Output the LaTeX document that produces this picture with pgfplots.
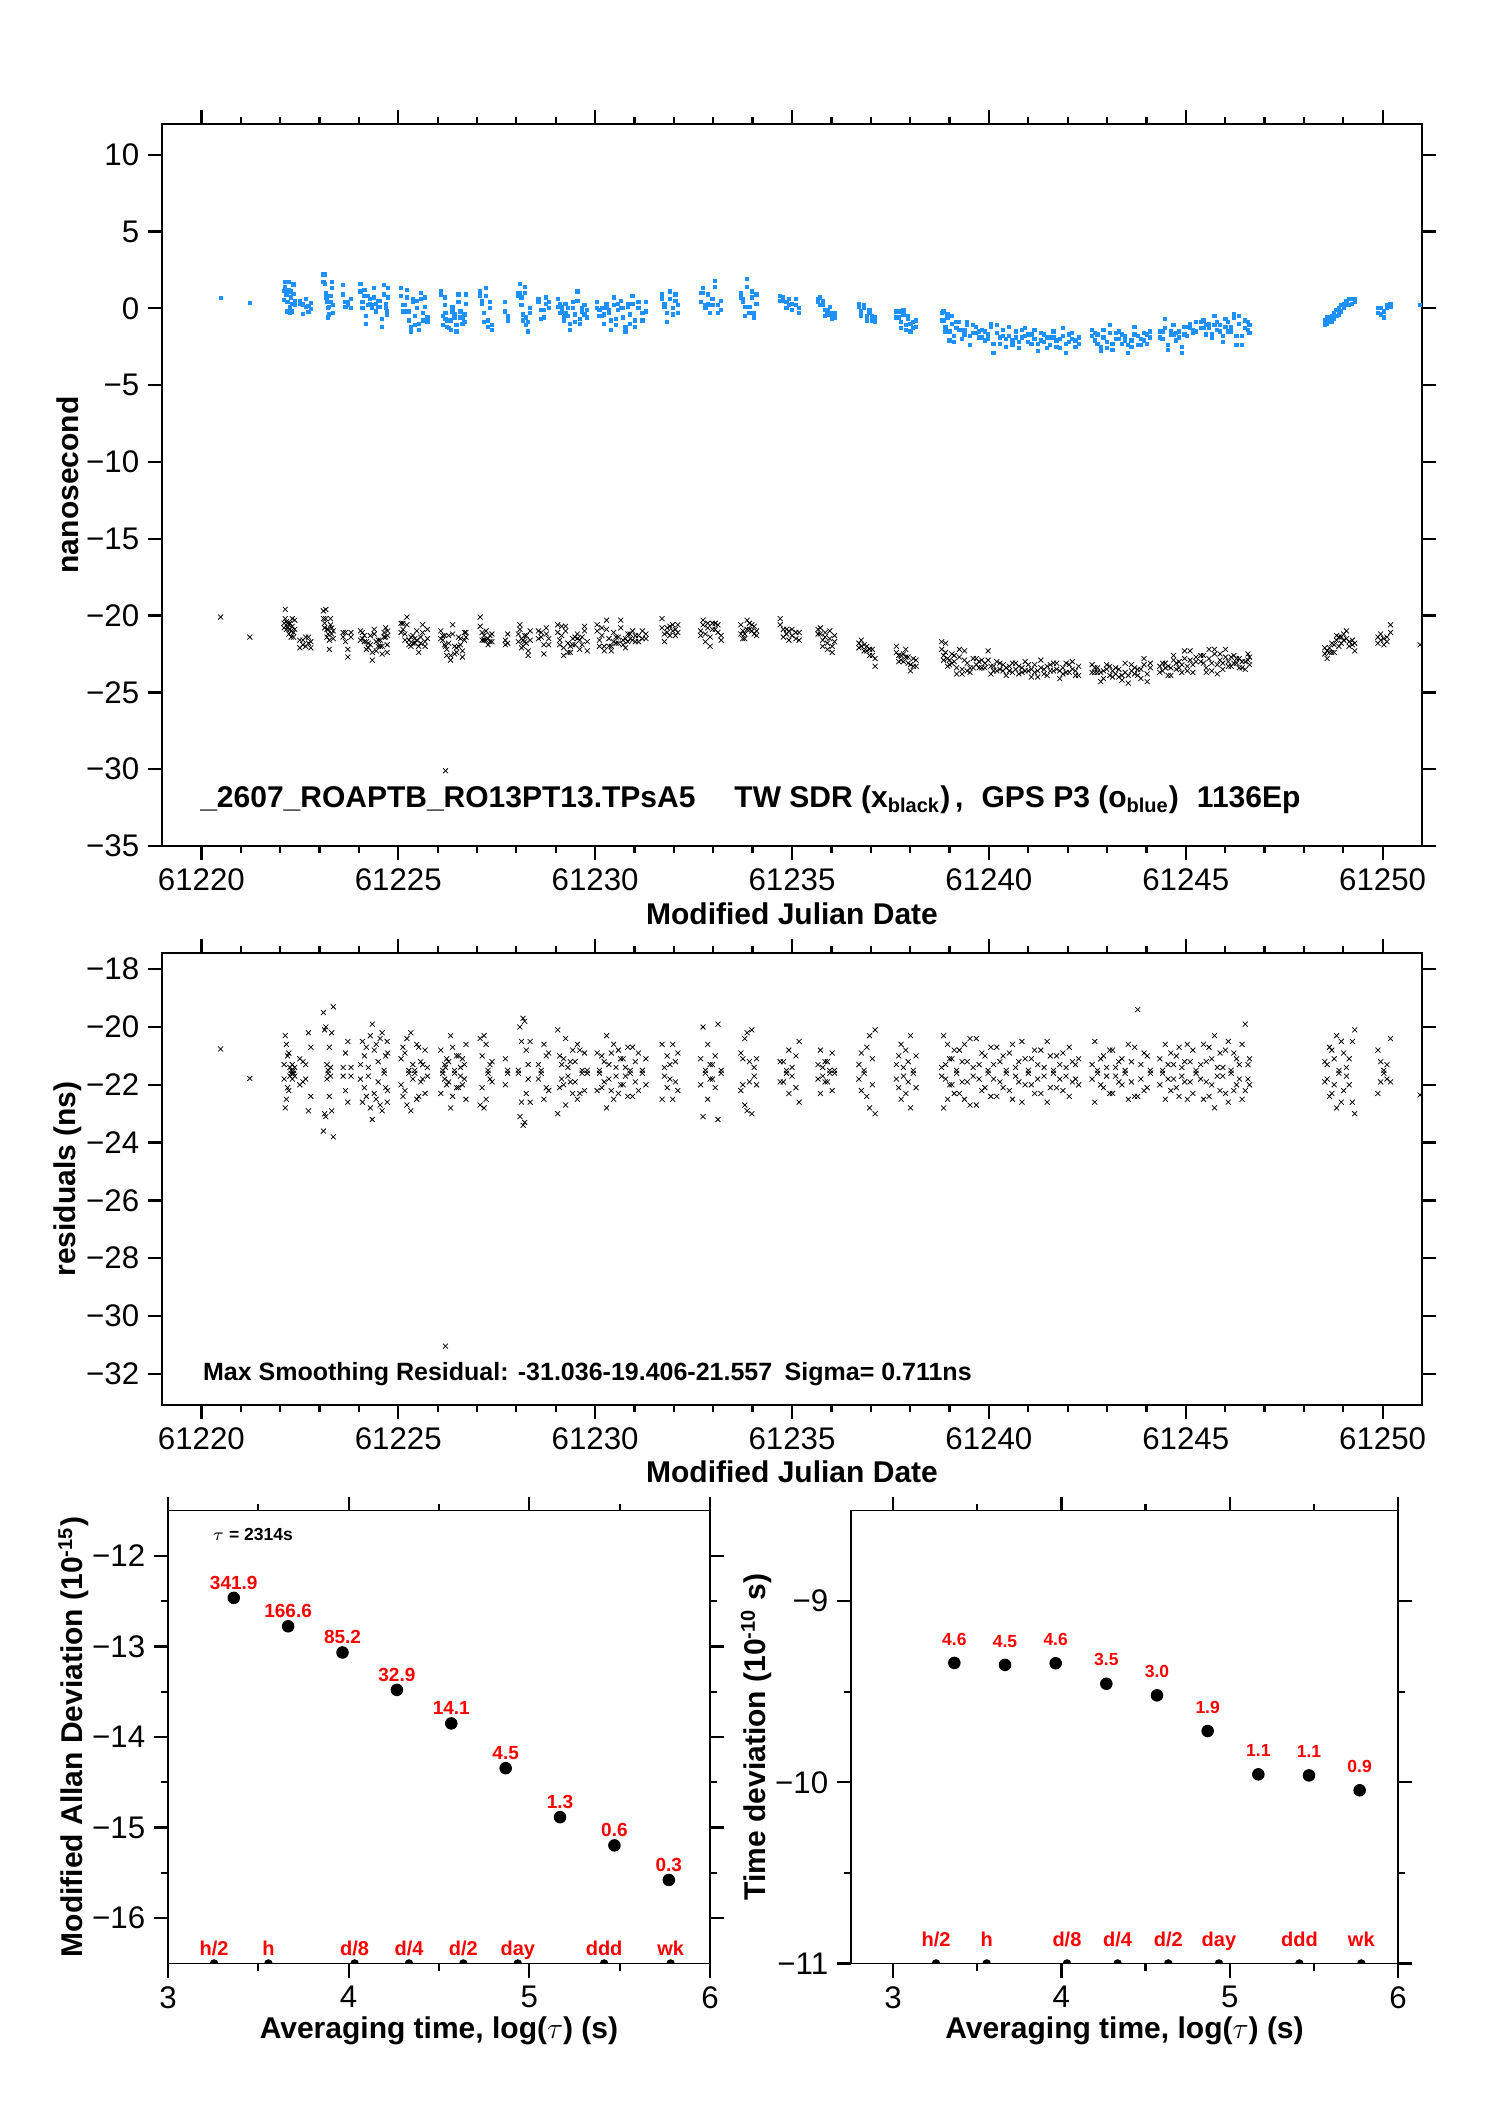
\documentclass[border=0pt]{standalone}
\usepackage{fontspec}
\setmainfont{Liberation Sans}
\usepackage{pgfplots}
\pgfplotsset{compat=1.18}
\usepackage{pgfplotstable}
\definecolor{gpsblue}{RGB}{30,144,255}

\pgfplotstableread{
x blue black res b2 k2 r2
61220.49 0.69 -20.1 -20.76 nan nan nan
61221.23 0.37 -21.4 -21.78 nan nan nan
61222.10 0.55 -20.5 -21.3 1.15 -20.8 -21.8
61222.13 1.70 -20.2 -20.3 1.40 -19.6 -22.8
61222.16 0.90 -20.4 -20.6 1.10 -20.9 -22.5
61222.19 0.40 -20.8 -21.0 -0.20 -20.5 -22.1
61222.22 1.20 -20.6 -20.9 1.70 -21.2 -22.2
61222.25 0.10 -20.9 -21.7 -0.30 -20.5 -21.4
61222.28 0.70 -21.0 -21.5 1.10 -21.4 -21.6
61222.31 0.30 -20.7 -21.8 -0.20 -20.2 -21.3
61222.34 0.95 -21.1 -21.6 1.55 -21.4 -21.5
61222.37 0.50 -20.9 -21.7 0.20 -20.3 -21.4
61222.50 0.30 -21.6 -22.0 0.50 -22.1 -21.1
61222.58 0.25 -21.9 -21.9 -0.35 -21.6 -21.2
61222.65 0.10 -21.4 -21.8 0.60 -22.0 -21.3
61222.72 0.15 -21.8 -22.9 -0.25 -21.4 -20.2
61222.78 -0.05 -21.7 -22.4 0.35 -22.1 -20.7
61223.10 2.20 -19.7 -19.5 1.70 -20.2 -23.6
61223.13 1.60 -20.5 -20.1 2.20 -20.8 -23.0
61223.16 1.00 -20.2 -20.0 0.70 -19.6 -23.1
61223.19 0.40 -20.9 -21.3 0.60 -21.4 -21.8
61223.22 0.00 -21.2 -21.5 -0.60 -20.9 -21.6
61223.25 -0.40 -21.6 -22.4 0.10 -22.2 -20.7
61223.28 0.80 -20.6 -21.7 0.40 -20.2 -21.4
61223.31 1.30 -20.8 -22.9 1.70 -21.2 -20.2
61223.35 0.20 -21.5 -23.8 -0.30 -21.0 -19.3
61223.60 0.90 -21.1 -21.4 1.50 -21.4 -21.7
61223.66 0.40 -21.7 -22.2 0.10 -21.1 -20.9
61223.72 0.20 -22.2 -22.6 0.40 -22.7 -20.5
61223.80 0.60 -21.4 -21.7 0.00 -21.1 -21.4
61224.04 1.10 -21.0 -21.3 1.60 -21.6 -21.8
61224.09 0.40 -21.5 -22.6 0.00 -21.1 -20.5
61224.14 0.80 -21.3 -21.0 1.20 -21.7 -22.1
61224.19 -0.50 -22.2 -22.4 -1.00 -21.7 -20.7
61224.24 0.20 -21.8 -21.7 0.80 -22.1 -21.4
61224.29 0.60 -21.9 -22.8 0.30 -21.3 -20.3
61224.34 0.00 -22.4 -23.2 0.20 -22.9 -19.9
61224.39 1.30 -21.2 -20.8 0.70 -20.9 -22.3
61224.44 -0.20 -21.7 -22.5 0.30 -22.3 -20.6
61224.49 0.50 -22.0 -21.9 0.10 -21.6 -21.2
61224.54 0.10 -21.6 -22.7 0.50 -22.0 -20.4
61224.59 -0.70 -22.5 -22.9 -1.20 -22.0 -20.2
61224.64 0.90 -21.1 -21.5 1.50 -21.4 -21.6
61224.68 0.30 -21.4 -22.1 0.00 -20.8 -21.0
61224.72 -0.40 -21.9 -22.6 -0.20 -22.4 -20.5
61224.73 1.30 -21.3 -20.9 0.70 -21.0 -22.2
61225.07 0.80 -20.5 -21.1 1.30 -21.1 -22.0
61225.12 0.20 -20.9 -22.4 -0.20 -20.5 -20.7
61225.17 -0.20 -21.2 -20.9 0.20 -21.6 -22.2
61225.22 1.20 -20.6 -20.4 0.70 -20.1 -22.7
61225.27 -0.80 -21.6 -21.5 -0.20 -21.9 -21.6
61225.32 -1.20 -22.0 -20.2 -1.50 -21.4 -22.9
61225.37 0.40 -21.3 -21.3 0.60 -21.8 -21.8
61225.42 -0.50 -21.8 -21.6 -1.10 -21.5 -21.5
61225.47 0.00 -21.0 -20.6 0.50 -21.6 -22.5
61225.52 -1.00 -22.4 -22.4 -1.40 -22.0 -20.7
61225.57 0.60 -21.4 -21.2 1.00 -21.8 -21.9
61225.62 -0.30 -21.1 -21.8 -0.80 -20.6 -21.3
61225.68 0.10 -21.7 -20.8 0.70 -22.0 -22.3
61225.74 -0.60 -21.5 -21.4 -0.90 -20.9 -21.7
61226.08 0.90 -21.0 -20.8 1.10 -21.5 -22.3
61226.13 -0.50 -21.6 -21.6 -1.10 -21.3 -21.5
61226.18 0.20 -21.3 -21.3 0.70 -21.9 -21.8
61226.20 -0.30 -30.1 -31.04 -0.70 -22.0 -21.4
61226.23 -1.20 -22.2 -22.0 -0.80 -22.6 -21.1
61226.28 -0.80 -21.8 -21.9 -1.30 -21.3 -21.2
61226.33 -1.40 -22.6 -22.8 -0.80 -22.9 -20.3
61226.38 0.10 -21.2 -20.7 -0.20 -20.6 -22.4
61226.43 -0.60 -22.0 -21.5 -0.40 -22.5 -21.6
61226.48 -1.10 -22.4 -22.1 -1.50 -22.1 -21.0
61226.53 0.40 -21.4 -21.0 0.90 -22.0 -22.1
61226.58 -0.20 -21.9 -21.7 -0.60 -21.5 -21.4
61226.63 -1.00 -22.3 -22.0 -0.60 -22.7 -21.1
61226.68 -0.40 -21.6 -21.3 -0.90 -21.1 -21.8
61226.72 0.30 -21.1 -20.6 0.90 -21.4 -22.5
61227.08 1.10 -20.7 -20.4 0.80 -20.1 -22.7
61227.13 0.30 -21.1 -21.0 0.50 -21.6 -22.1
61227.18 -0.30 -21.6 -22.8 -0.90 -21.3 -20.3
61227.23 0.80 -21.0 -20.6 1.30 -21.6 -22.5
61227.28 -0.80 -21.9 -21.5 -1.20 -21.5 -21.6
61227.33 0.00 -21.3 -21.8 0.40 -21.7 -21.3
61227.38 -1.40 -21.7 -21.2 -1.10 -21.2 -21.9
61227.72 -0.20 -21.6 -21.1 0.40 -21.9 -22.0
61227.78 -0.50 -21.8 -21.5 -0.80 -21.2 -21.6
61228.05 0.80 -21.2 -21.6 1.00 -21.7 -21.5
61228.09 1.60 -20.9 -20.0 1.00 -20.6 -23.1
61228.13 0.20 -21.5 -22.6 0.70 -22.1 -20.5
61228.17 -0.40 -22.0 -23.4 -0.80 -21.6 -19.7
61228.21 1.00 -21.3 -19.8 1.40 -21.7 -23.3
61228.25 -0.60 -21.8 -22.3 -1.10 -21.3 -20.8
61228.30 -1.50 -22.3 -21.3 -0.90 -22.6 -21.8
61228.35 0.00 -21.6 -20.5 -0.30 -21.0 -22.6
61228.56 0.40 -21.0 -21.3 0.60 -21.5 -21.8
61228.63 -0.10 -21.4 -21.6 -0.70 -21.1 -21.5
61228.70 -0.60 -21.9 -22.5 -0.10 -22.5 -20.6
61228.76 0.70 -21.2 -21.0 0.30 -20.8 -22.1
61228.82 0.00 -21.5 -22.2 0.40 -21.9 -20.9
61229.05 0.60 -21.1 -20.1 0.10 -20.6 -23.0
61229.10 -0.30 -21.6 -21.0 0.30 -21.9 -22.1
61229.15 0.10 -21.3 -21.8 -0.20 -20.7 -21.3
61229.20 -0.80 -22.1 -22.0 -0.60 -22.6 -21.1
61229.25 0.30 -21.0 -20.4 -0.30 -20.7 -22.7
61229.31 -0.50 -21.8 -21.4 0.00 -22.4 -21.7
61229.37 -1.00 -22.4 -21.9 -1.40 -22.0 -21.2
61229.43 0.00 -21.5 -20.8 0.40 -21.9 -22.3
61229.49 -0.40 -21.9 -21.2 -0.90 -21.4 -21.9
61229.55 0.50 -21.2 -20.6 1.10 -21.5 -22.5
61229.61 -0.70 -22.2 -22.3 -1.00 -21.6 -20.8
61229.67 -0.20 -21.4 -21.6 0.00 -21.9 -21.5
61229.73 0.20 -21.0 -20.9 -0.40 -20.7 -22.2
61229.80 -0.60 -21.7 -21.5 -0.10 -22.3 -21.6
61230.05 0.40 -21.0 -20.9 0.00 -20.6 -22.2
61230.11 -0.50 -21.6 -21.5 -0.10 -22.0 -21.6
61230.17 0.00 -21.3 -21.0 -0.50 -20.8 -22.1
61230.23 -1.00 -22.0 -21.9 -0.40 -22.3 -21.2
61230.29 0.30 -20.9 -20.3 0.00 -20.3 -22.8
61230.35 -0.30 -21.5 -21.3 -0.10 -22.0 -21.8
61230.41 -1.40 -22.3 -22.2 -0.80 -22.0 -20.9
61230.47 0.20 -21.1 -20.6 0.70 -21.7 -22.5
61230.53 -0.70 -21.8 -21.7 -1.10 -21.4 -21.4
61230.59 -0.10 -21.4 -20.8 0.30 -21.8 -22.3
61230.65 0.50 -20.8 -21.1 0.00 -20.3 -22.0
61230.71 -0.60 -21.6 -22.0 0.00 -21.9 -21.1
61230.77 -1.20 -22.1 -21.4 -1.50 -21.5 -21.7
61230.83 0.10 -21.2 -20.7 0.30 -21.7 -22.4
61230.89 -0.40 -21.5 -21.6 -1.00 -21.2 -21.5
61230.95 0.30 -21.0 -22.4 0.80 -21.6 -20.7
61231.02 -0.80 -21.7 -21.2 -1.20 -21.3 -21.9
61231.10 0.00 -21.3 -20.9 0.40 -21.7 -22.2
61231.20 -0.30 -21.5 -21.5 -0.80 -21.0 -21.6
61231.29 -0.20 -21.2 -21.1 0.40 -21.5 -22.0
61231.70 0.90 -20.8 -20.6 0.60 -20.2 -22.5
61231.76 0.10 -21.2 -21.4 0.30 -21.7 -21.7
61231.83 -0.30 -21.1 -22.1 -0.90 -20.8 -21.0
61231.90 0.60 -20.7 -21.8 1.10 -21.3 -21.3
61231.97 0.00 -21.0 -22.5 -0.40 -20.6 -20.6
61232.04 0.50 -20.9 -21.2 0.90 -21.3 -21.9
61232.10 0.20 -21.1 -20.9 -0.30 -20.6 -22.2
61232.68 0.40 -21.0 -21.1 1.00 -21.3 -22.0
61232.74 1.30 -20.3 -20.0 1.00 -20.6 -23.1
61232.80 0.00 -21.2 -21.6 0.20 -21.7 -21.5
61232.86 0.90 -20.8 -22.5 0.30 -20.5 -20.6
61232.92 -0.30 -21.4 -21.8 0.20 -22.0 -21.3
61232.98 0.60 -20.9 -21.3 0.20 -20.5 -21.8
61233.05 1.80 -20.5 -21.0 1.40 -20.9 -22.1
61233.12 0.20 -21.1 -23.2 -0.30 -20.6 -19.9
61233.20 -0.10 -21.3 -21.5 0.50 -21.6 -21.6
61233.70 1.00 -21.2 -20.9 0.70 -20.6 -22.2
61233.75 0.40 -21.0 -22.0 0.60 -21.5 -21.1
61233.80 -0.50 -21.5 -22.7 0.10 -21.2 -20.4
61233.86 1.90 -20.3 -20.2 1.40 -20.9 -22.9
61233.92 0.10 -20.9 -21.2 -0.30 -20.5 -21.9
61233.98 0.70 -20.6 -23.0 1.10 -21.0 -20.1
61234.04 -0.30 -21.2 -21.4 -0.60 -20.7 -21.7
61234.10 0.30 -21.0 -21.1 0.90 -21.3 -22.0
61234.70 0.80 -20.6 -21.2 0.50 -20.2 -21.9
61234.78 0.50 -20.9 -21.9 0.70 -21.4 -21.2
61234.86 0.00 -21.2 -21.5 0.40 -20.9 -21.6
61234.92 0.60 -21.0 -20.8 0.20 -21.6 -22.3
61235.00 0.30 -21.3 -21.4 -0.10 -20.9 -21.7
61235.10 0.20 -21.1 -22.1 0.60 -21.5 -21.0
61235.18 0.00 -21.6 -22.6 -0.30 -21.1 -20.5
61235.66 0.40 -20.9 -21.3 0.60 -21.2 -21.8
61235.72 0.70 -21.2 -20.8 0.20 -20.8 -22.3
61235.78 0.20 -21.6 -21.7 0.50 -22.0 -21.4
61235.84 -0.10 -21.4 -21.2 -0.50 -21.1 -21.9
61235.90 -0.40 -21.8 -21.9 -0.10 -22.2 -21.2
61235.96 0.10 -21.5 -21.5 -0.30 -21.0 -21.6
61236.02 -0.70 -22.0 -22.2 -0.40 -22.4 -20.9
61236.08 -0.30 -21.7 -21.6 -0.60 -21.3 -21.5
61236.70 0.10 -21.8 -21.8 0.30 -22.1 -21.3
61236.76 -0.20 -22.0 -22.2 -0.50 -21.6 -20.9
61236.83 0.20 -21.9 -21.6 0.00 -22.3 -21.5
61236.90 -0.50 -22.3 -22.4 -0.80 -22.0 -20.7
61236.97 -0.30 -22.2 -22.8 -0.10 -22.6 -20.3
61237.04 -0.80 -22.6 -22.0 -0.50 -22.2 -21.1
61237.11 -0.60 -22.8 -23.0 -0.90 -23.3 -20.1
61237.65 -0.20 -22.4 -21.3 -0.60 -22.0 -21.8
61237.71 -0.60 -22.6 -22.1 -0.20 -23.0 -21.0
61237.77 -0.90 -22.9 -22.5 -1.30 -22.6 -20.6
61237.83 -0.40 -22.5 -21.7 -0.10 -23.0 -21.4
61237.89 -1.10 -22.7 -22.3 -1.40 -22.2 -20.8
61237.95 -0.70 -23.1 -21.9 -0.50 -22.7 -21.2
61238.01 -1.50 -23.6 -22.8 -1.00 -23.2 -20.3
61238.08 -0.90 -22.8 -21.5 -1.30 -23.3 -21.6
61238.15 -1.20 -23.3 -22.1 -0.80 -22.9 -21.0
61238.80 -0.30 -22.2 -21.4 -0.80 -21.7 -21.7
61238.85 -0.80 -22.6 -20.3 -0.20 -22.9 -22.8
61238.90 -1.20 -22.4 -21.8 -1.50 -21.8 -21.3
61238.95 -0.60 -22.8 -22.5 -0.40 -23.3 -20.6
61239.00 -1.50 -23.2 -21.1 -2.10 -22.9 -22.0
61239.06 -1.00 -22.5 -22.0 -0.50 -23.1 -21.1
61239.12 -1.80 -23.0 -20.8 -2.20 -22.6 -22.3
61239.18 -1.30 -23.4 -21.6 -0.90 -23.8 -21.5
61239.25 -0.90 -22.7 -22.3 -1.40 -22.2 -20.8
61239.32 -2.00 -23.5 -21.2 -1.40 -23.8 -21.9
61239.38 -1.40 -22.9 -20.6 -1.70 -22.3 -22.5
61239.45 -1.10 -23.1 -21.9 -0.90 -23.6 -21.2
61239.52 -2.40 -23.7 -22.7 -1.80 -23.4 -20.4
61239.60 -1.60 -22.8 -21.4 -1.10 -23.4 -21.7
61239.68 -1.20 -23.2 -20.4 -1.60 -22.8 -22.7
61239.75 -1.90 -23.0 -21.8 -1.50 -23.4 -21.3
61239.82 -1.40 -23.4 -22.2 -1.90 -22.9 -20.9
61239.90 -2.10 -23.1 -21.0 -1.50 -23.4 -22.1
61239.98 -1.70 -22.9 -21.6 -2.00 -22.3 -21.5
61240.05 -1.20 -23.3 -22.4 -1.00 -23.8 -20.7
61240.12 -2.30 -23.6 -21.3 -2.90 -23.3 -21.8
61240.20 -1.60 -23.0 -20.7 -1.10 -23.6 -22.4
61240.28 -1.90 -23.5 -21.9 -2.30 -23.1 -21.2
61240.36 -1.40 -23.2 -22.1 -1.80 -23.6 -21.0
61240.44 -2.50 -23.9 -21.5 -2.00 -23.4 -21.6
61240.52 -1.80 -23.3 -20.9 -1.20 -23.6 -22.2
61240.60 -2.10 -23.7 -22.5 -2.40 -23.1 -20.6
61240.68 -1.50 -23.1 -21.7 -1.90 -23.5 -21.4
61240.76 -2.60 -23.8 -21.2 -2.20 -23.3 -21.9
61240.84 -1.90 -23.4 -20.5 -1.40 -23.7 -22.6
61240.92 -1.30 -23.0 -22.0 -1.80 -23.6 -21.1
61241.00 -2.20 -23.6 -21.6 -1.70 -23.2 -21.5
61241.08 -1.70 -23.5 -21.1 -2.30 -24.0 -22.0
61241.16 -2.00 -23.2 -22.3 -1.40 -23.7 -20.8
61241.24 -2.80 -24.0 -21.8 -2.30 -23.6 -21.3
61241.32 -1.60 -23.4 -20.8 -2.10 -22.9 -22.3
61241.40 -2.20 -23.8 -21.4 -1.70 -23.5 -21.7
61241.48 -1.90 -23.3 -22.6 -2.60 -23.9 -20.5
61241.56 -2.40 -23.6 -21.0 -1.90 -23.2 -22.1
61241.64 -1.50 -23.1 -21.5 -1.90 -23.6 -21.6
61241.72 -2.10 -23.5 -22.1 -2.50 -23.1 -21.0
61241.80 -2.60 -24.1 -21.3 -2.00 -23.6 -21.8
61241.88 -1.80 -23.4 -20.9 -1.30 -23.8 -22.2
61241.96 -2.30 -23.7 -21.7 -2.90 -23.1 -21.4
61242.04 -1.70 -23.2 -22.4 -2.20 -23.7 -20.7
61242.12 -2.00 -23.5 -21.2 -1.60 -23.0 -21.9
61242.20 -2.50 -23.9 -21.8 -2.10 -23.6 -21.3
61242.28 -1.90 -23.3 -22.0 -2.30 -23.9 -21.1
61242.62 -1.40 -23.2 -21.3 -1.80 -23.7 -21.8
61242.69 -2.10 -23.7 -22.6 -1.60 -23.4 -20.5
61242.76 -1.70 -23.4 -21.6 -2.30 -23.7 -21.5
61242.84 -2.50 -24.3 -21.1 -2.80 -23.7 -22.0
61242.91 -1.90 -23.6 -22.1 -1.40 -24.1 -21.0
61242.99 -2.20 -23.5 -21.4 -2.60 -23.2 -21.7
61243.07 -1.60 -23.3 -20.8 -1.10 -23.9 -22.3
61243.14 -2.70 -24.0 -22.3 -2.30 -23.6 -20.8
61243.22 -2.00 -23.8 -21.7 -1.60 -23.4 -21.4
61243.30 -1.50 -23.5 -21.2 -2.00 -24.0 -21.9
61243.38 -2.30 -24.2 -22.0 -1.70 -23.9 -21.1
61243.46 -1.80 -23.7 -21.5 -2.10 -23.1 -21.6
61243.54 -2.90 -24.4 -20.6 -2.40 -23.9 -22.5
61243.62 -2.10 -23.6 -21.9 -2.50 -23.2 -21.2
61243.70 -1.70 -23.4 -22.4 -1.20 -23.8 -20.7
61243.78 -2.40 -23.9 -19.4 -1.80 -23.5 -22.4
61243.86 -2.00 -23.5 -21.3 -2.40 -24.1 -21.8
61243.94 -1.60 -23.2 -22.2 -2.10 -22.8 -20.9
61244.02 -2.30 -23.8 -21.0 -1.70 -24.3 -22.1
61244.10 -1.90 -23.4 -21.6 -1.50 -23.1 -21.5
61244.34 -1.50 -23.3 -21.1 -1.90 -23.7 -22.0
61244.41 -2.00 -23.6 -21.6 -1.50 -23.1 -21.5
61244.48 -1.30 -23.1 -22.5 -0.70 -23.4 -20.6
61244.55 -2.40 -23.9 -21.3 -2.70 -23.3 -21.8
61244.62 -1.70 -23.4 -20.9 -1.50 -23.9 -22.2
61244.69 -1.10 -22.9 -21.8 -1.70 -22.6 -21.3
61244.76 -2.10 -23.5 -22.1 -1.60 -23.1 -21.0
61244.83 -1.50 -23.0 -20.7 -1.90 -23.4 -22.4
61244.90 -2.90 -23.7 -21.4 -2.50 -23.2 -21.7
61244.97 -1.20 -22.8 -21.9 -1.70 -22.3 -21.2
61245.04 -1.80 -23.3 -20.6 -1.20 -23.6 -22.5
61245.11 -1.00 -22.9 -21.2 -1.30 -22.3 -21.9
61245.18 -1.60 -23.2 -22.3 -1.40 -23.7 -20.8
61245.26 -0.90 -22.7 -21.5 -1.50 -23.0 -21.6
61245.38 -1.30 -23.0 -21.3 -0.90 -22.6 -21.8
61245.45 -0.80 -22.6 -20.6 -1.30 -23.1 -22.5
61245.52 -1.70 -23.4 -21.9 -1.10 -23.7 -21.2
61245.59 -1.00 -22.8 -22.4 -1.30 -22.2 -20.7
61245.66 -1.90 -23.1 -21.1 -1.70 -23.6 -22.0
61245.73 -0.50 -22.5 -20.3 -1.10 -22.2 -22.8
61245.80 -1.40 -23.2 -21.7 -0.90 -23.8 -21.4
61245.87 -1.10 -22.9 -22.2 -1.50 -22.5 -20.9
61245.94 -2.20 -23.5 -21.4 -1.80 -23.1 -21.7
61246.01 -0.70 -22.7 -20.8 -1.20 -22.2 -22.3
61246.08 -1.50 -23.0 -22.6 -0.90 -23.3 -20.5
61246.15 -1.20 -23.3 -21.6 -1.50 -22.7 -21.5
61246.22 -0.60 -22.6 -20.9 -0.40 -23.1 -22.2
61246.29 -1.80 -23.1 -22.0 -2.40 -22.8 -21.1
61246.36 -1.00 -22.8 -21.3 -0.50 -23.4 -21.8
61246.43 -2.40 -23.4 -22.5 -1.80 -23.0 -20.6
61246.51 -1.30 -23.0 -19.9 -0.80 -23.5 -22.2
61246.58 -0.90 -22.9 -21.8 -1.40 -22.5 -21.3
61246.62 -1.60 -23.2 -22.0 -1.10 -22.7 -21.1
61248.53 -0.80 -22.5 -21.9 -1.10 -22.1 -21.2
61248.59 -1.00 -22.3 -21.3 -0.60 -22.8 -21.8
61248.65 -0.60 -22.1 -20.7 -0.90 -22.4 -22.4
61248.71 -0.90 -22.4 -22.3 -0.50 -21.8 -20.8
61248.77 -0.30 -21.9 -21.1 -0.70 -22.4 -22.0
61248.83 -0.50 -21.6 -20.3 -0.10 -21.3 -22.8
61248.89 0.00 -21.4 -21.6 -0.40 -22.0 -21.5
61248.95 -0.20 -21.8 -22.6 0.20 -21.4 -20.5
61249.01 0.30 -21.2 -20.9 0.00 -21.6 -22.2
61249.08 0.50 -21.5 -21.4 0.20 -21.0 -21.7
61249.15 0.20 -21.7 -22.0 0.60 -22.0 -21.1
61249.23 0.60 -21.6 -22.6 0.30 -21.9 -20.5
61249.29 0.40 -22.3 -23.0 0.60 -21.8 -20.1
61249.88 -0.30 -21.4 -20.8 0.00 -21.8 -22.3
61249.95 0.00 -21.6 -21.2 -0.40 -21.2 -21.9
61250.03 -0.60 -21.5 -21.5 -0.20 -21.9 -21.6
61250.11 0.20 -21.7 -21.3 0.00 -21.4 -21.8
61250.20 0.30 -20.6 -20.4 0.10 -21.1 -21.9
61250.95 0.20 -21.9 -22.35 nan nan nan
}\tdata

\pgfplotsset{
  myaxis/.style={
    scale only axis,
    anchor=north west,
    tick align=outside,
    xtick pos=both, ytick pos=both,
    major tick length=5.6pt, minor tick length=2.8pt,
    every tick/.style={black, line width=0.9pt},
    axis line style={line width=0.7pt},
    tick label style={font=\fontsize{12.5}{14}\selectfont},
    label style={font=\bfseries\fontsize{12}{14}\selectfont},
    /pgf/number format/assume math mode=true,
    /pgf/number format/1000 sep={},
    scaled x ticks=false, scaled y ticks=false,
  },
  mjd/.style={
    width=504pt,
    xmin=61219, xmax=61251,
    xtick={61220,61225,61230,61235,61240,61245,61250},
    xticklabels={61220,61225,61230,61235,61240,61245,61250},
    minor x tick num=4,
    xlabel={Modified Julian Date},
  },
  bmark/.style={only marks, mark=square*, mark size=0.65pt, color=gpsblue},
  kmark/.style={only marks, mark=x, mark size=1.4pt, black, line width=0.3pt},
}
\tikzset{
  vlabL/.style={text=red, font=\bfseries\fontsize{7.6}{8}\selectfont, inner sep=0pt, anchor=base},
  vlabR/.style={text=red, font=\bfseries\fontsize{7}{8}\selectfont, inner sep=0pt, anchor=base},
  plab/.style={text=red, font=\bfseries\fontsize{8}{9}\selectfont, inner sep=0pt, anchor=base},
}

\begin{document}
\begin{tikzpicture}
\path[use as bounding box] (0,0) rectangle (595.2pt,-842pt);

% ---------- top panel ----------
\begin{axis}[myaxis, mjd,
  at={(64.8pt,-49.6pt)}, height=288.8pt,
  ymin=-35, ymax=12,
  ytick={-35,-30,-25,-20,-15,-10,-5,0,5,10},
  yticklabels={−35,−30,−25,−20,−15,−10,−5,0,5,10},
  ylabel={nanosecond},
  xlabel style={anchor=center, at={(axis description cs:0.5,-0.0935)}},
  ylabel style={anchor=center, at={(axis description cs:-0.075,0.5)}},
]
\addplot[bmark] table[x=x, y=blue] {\tdata};
\addplot[bmark] table[x=x, y=b2] {\tdata};
\addplot[kmark] table[x=x, y=black] {\tdata};
\addplot[kmark] table[x=x, y=k2] {\tdata};
\node[anchor=west, inner sep=0pt, font=\bfseries\fontsize{12}{14}\selectfont] at (axis cs:61219.96,-32)
  {\_2607\_ROAPTB\_RO13PT13.TPsA5\hspace{1.3em}TW SDR (x\textsubscript{black})\,,\hspace{0.6em}GPS P3 (o\textsubscript{blue})\hspace{0.6em}1136Ep};
\end{axis}

% ---------- middle panel ----------
\begin{axis}[myaxis, mjd,
  at={(64.8pt,-381.2pt)}, height=180.7pt,
  ymin=-33.07, ymax=-17.44,
  ytick={-32,-30,-28,-26,-24,-22,-20,-18},
  yticklabels={−32,−30,−28,−26,−24,−22,−20,−18},
  ylabel={residuals (ns)},
  xlabel style={anchor=center, at={(axis description cs:0.5,-0.148)}},
  ylabel style={anchor=center, at={(axis description cs:-0.075,0.5)}},
]
\addplot[kmark] table[x=x, y=res] {\tdata};
\addplot[kmark] table[x=x, y=r2] {\tdata};
\node[anchor=west, inner sep=0pt, font=\bfseries\fontsize{10}{12}\selectfont] at (axis cs:61220.03,-32)
  {Max Smoothing Residual: -31.036-19.406-21.557\hspace{0.5em}Sigma= 0.711ns};
\end{axis}

% ---------- bottom left: Modified Allan deviation ----------
\begin{axis}[myaxis,
  at={(67.2pt,-604.2pt)}, width=216.8pt, height=181.2pt,
  xmin=3, xmax=6, ymin=-16.5, ymax=-11.5,
  xtick={3,4,5,6}, minor x tick num=1,
  ytick={-16,-15,-14,-13,-12}, minor y tick num=1,
  yticklabels={−16,−15,−14,−13,−12},
  clip marker paths=true,
  xlabel={Averaging time, log($\tau$) (s)},
  ylabel={Modified Allan Deviation (10\textsuperscript{-15})},
  xlabel style={anchor=center, at={(axis description cs:0.5,-0.1485)}},
  ylabel style={anchor=center, at={(axis description cs:-0.174,0.5)}},
]
\addplot[only marks, mark=*, mark size=2.3pt, black] coordinates {
(3.364,-12.464) (3.665,-12.778) (3.966,-13.067) (4.267,-13.480) (4.568,-13.850)
(4.869,-14.344) (5.170,-14.885) (5.471,-15.196) (5.772,-15.578)};
\addplot[only marks, mark=*, mark size=1.5pt, black] coordinates {
(3.255,-16.5) (3.556,-16.5) (4.033,-16.5) (4.334,-16.5) (4.635,-16.5) (4.936,-16.5) (5.414,-16.5) (5.782,-16.5)};
\node[vlabL, yshift=3.5pt] at (axis cs:3.364,-12.464) {341.9};
\node[vlabL, yshift=3.5pt] at (axis cs:3.665,-12.778) {166.6};
\node[vlabL, yshift=3.5pt] at (axis cs:3.966,-13.067) {85.2};
\node[vlabL, yshift=3.5pt] at (axis cs:4.267,-13.480) {32.9};
\node[vlabL, yshift=3.5pt] at (axis cs:4.568,-13.850) {14.1};
\node[vlabL, yshift=3.5pt] at (axis cs:4.869,-14.344) {4.5};
\node[vlabL, yshift=3.5pt] at (axis cs:5.170,-14.885) {1.3};
\node[vlabL, yshift=3.5pt] at (axis cs:5.471,-15.196) {0.6};
\node[vlabL, yshift=3.5pt] at (axis cs:5.772,-15.578) {0.3};
\node[plab, yshift=3.3pt] at (axis cs:3.255,-16.5) {h/2};
\node[plab, yshift=3.3pt] at (axis cs:3.556,-16.5) {h};
\node[plab, yshift=3.3pt] at (axis cs:4.033,-16.5) {d/8};
\node[plab, yshift=3.3pt] at (axis cs:4.334,-16.5) {d/4};
\node[plab, yshift=3.3pt] at (axis cs:4.635,-16.5) {d/2};
\node[plab, yshift=3.3pt] at (axis cs:4.936,-16.5) {day};
\node[plab, yshift=3.3pt] at (axis cs:5.414,-16.5) {ddd};
\node[plab, yshift=3.3pt] at (axis cs:5.782,-16.5) {wk};
\node[anchor=west, inner sep=0pt, font=\bfseries\fontsize{7}{8}\selectfont] at (axis cs:3.246,-11.77) {$\tau$ = 2314s};
\end{axis}

% ---------- bottom right: Time deviation ----------
\begin{axis}[myaxis,
  at={(340.4pt,-604.2pt)}, width=218.8pt, height=181.2pt,
  xmin=2.75, xmax=6, ymin=-11, ymax=-8.5,
  xtick={3,4,5,6}, minor x tick num=1,
  ytick={-11,-10,-9}, minor y tick num=1,
  yticklabels={−11,−10,−9},
  clip marker paths=true,
  xlabel={Averaging time, log($\tau$) (s)},
  ylabel={Time deviation (10\textsuperscript{-10} s)},
  xlabel style={anchor=center, at={(axis description cs:0.5,-0.1485)}},
  ylabel style={anchor=center, at={(axis description cs:-0.173,0.5)}},
]
\addplot[only marks, mark=*, mark size=2.3pt, black] coordinates {
(3.364,-9.341) (3.665,-9.352) (3.966,-9.343) (4.267,-9.456) (4.568,-9.520)
(4.869,-9.717) (5.170,-9.956) (5.471,-9.962) (5.772,-10.044)};
\addplot[only marks, mark=*, mark size=1.5pt, black] coordinates {
(3.255,-11) (3.556,-11) (4.033,-11) (4.334,-11) (4.635,-11) (4.936,-11) (5.414,-11) (5.782,-11)};
\node[vlabR, yshift=7.1pt] at (axis cs:3.364,-9.341) {4.6};
\node[vlabR, yshift=7.1pt] at (axis cs:3.665,-9.352) {4.5};
\node[vlabR, yshift=7.1pt] at (axis cs:3.966,-9.343) {4.6};
\node[vlabR, yshift=7.1pt] at (axis cs:4.267,-9.456) {3.5};
\node[vlabR, yshift=7.1pt] at (axis cs:4.568,-9.520) {3.0};
\node[vlabR, yshift=7.1pt] at (axis cs:4.869,-9.717) {1.9};
\node[vlabR, yshift=7.1pt] at (axis cs:5.170,-9.956) {1.1};
\node[vlabR, yshift=7.1pt] at (axis cs:5.471,-9.962) {1.1};
\node[vlabR, yshift=7.1pt] at (axis cs:5.772,-10.044) {0.9};
\node[plab, yshift=7pt] at (axis cs:3.255,-11) {h/2};
\node[plab, yshift=7pt] at (axis cs:3.556,-11) {h};
\node[plab, yshift=7pt] at (axis cs:4.033,-11) {d/8};
\node[plab, yshift=7pt] at (axis cs:4.334,-11) {d/4};
\node[plab, yshift=7pt] at (axis cs:4.635,-11) {d/2};
\node[plab, yshift=7pt] at (axis cs:4.936,-11) {day};
\node[plab, yshift=7pt] at (axis cs:5.414,-11) {ddd};
\node[plab, yshift=7pt] at (axis cs:5.782,-11) {wk};
\end{axis}
\end{tikzpicture}
\end{document}
